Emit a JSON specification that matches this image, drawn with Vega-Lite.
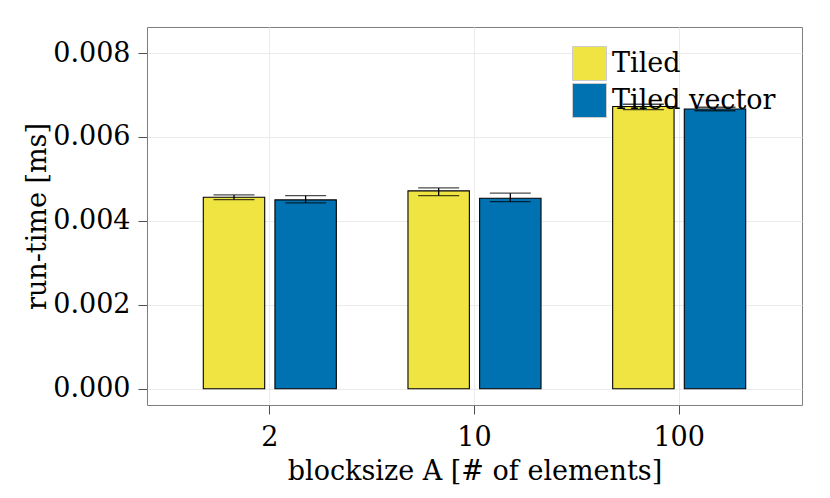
{
  "$schema": "https://vega.github.io/schema/vega-lite/v6.json",
  "width": 655,
  "height": 378,
  "autosize": {"type": "none"},
  "padding": {"left": 147, "top": 27, "right": 28, "bottom": 93},
  "background": "white",
  "data": {
    "values": [
      {"size": "2", "variant": "Tiled", "mean": 0.004564, "lo": 0.004507, "hi": 0.004619},
      {"size": "2", "variant": "Tiled vector", "mean": 0.0045, "lo": 0.004429, "hi": 0.004602},
      {"size": "10", "variant": "Tiled", "mean": 0.004714, "lo": 0.004602, "hi": 0.004786},
      {"size": "10", "variant": "Tiled vector", "mean": 0.00454, "lo": 0.00446, "hi": 0.00466},
      {"size": "100", "variant": "Tiled", "mean": 0.006726, "lo": 0.00665, "hi": 0.006779},
      {"size": "100", "variant": "Tiled vector", "mean": 0.006667, "lo": 0.006624, "hi": 0.006707}
    ]
  },
  "encoding": {
    "x": {
      "field": "size", "type": "nominal", "sort": ["2", "10", "100"],
      "scale": {"type": "band", "paddingInner": 0, "paddingOuter": 0.1},
      "axis": {
        "title": "blocksize A [# of elements]",
        "labelAngle": 0, "bandPosition": 0.5,
        "domain": false, "tickSize": 9, "tickColor": "#4d4d4d",
        "gridColor": "#ebebeb", "grid": true,
        "labelPadding": 10, "titleY": 74, "titleBaseline": "alphabetic"
      }
    },
    "xOffset": {
      "field": "variant", "type": "nominal",
      "scale": {"paddingInner": 0.142857, "paddingOuter": 0.5}
    }
  },
  "layer": [
    {
      "mark": {"type": "bar", "stroke": "black", "strokeWidth": 1.1},
      "encoding": {
        "y": {
          "field": "mean", "type": "quantitative",
          "scale": {"domain": [-0.000388, 0.00862], "nice": false, "zero": false},
          "axis": {
            "title": "run-time [ms]",
            "values": [0, 0.002, 0.004, 0.006, 0.008], "format": ".3f",
            "domain": false, "tickSize": 9, "tickColor": "#4d4d4d",
            "gridColor": "#ebebeb", "labelPadding": 8, "labelBaseline": "middle",
            "titleX": -102, "titleBaseline": "alphabetic"
          }
        },
        "fill": {
          "field": "variant", "type": "nominal",
          "scale": {"domain": ["Tiled", "Tiled vector"], "range": ["#F0E442", "#0072B2"]},
          "legend": {
            "title": null, "orient": "none", "legendX": 425, "legendY": 19,
            "symbolType": "square", "symbolSize": 1156, "symbolStrokeColor": "#cccccc",
            "symbolStrokeWidth": 1, "symbolOpacity": 1, "rowPadding": -10, "labelOffset": 5,
            "labelFontSize": 27, "labelColor": "black", "labelLimit": 300
          }
        }
      }
    },
    {
      "mark": {"type": "rule", "color": "black", "strokeWidth": 1.3},
      "encoding": {
        "y": {
          "field": "lo", "type": "quantitative",
          "axis": {
            "orient": "right", "values": [0.001, 0.003, 0.005, 0.007], "labels": false,
            "ticks": false, "domain": false, "title": null, "gridColor": "#f7f7f7"
          }
        },
        "y2": {"field": "hi"}
      }
    },
    {
      "mark": {"type": "tick", "orient": "horizontal", "color": "black", "size": 41, "thickness": 1.3},
      "encoding": {"y": {"field": "hi", "type": "quantitative", "axis": null}}
    },
    {
      "mark": {"type": "tick", "orient": "horizontal", "color": "black", "size": 41, "thickness": 1.3},
      "encoding": {"y": {"field": "lo", "type": "quantitative", "axis": null}}
    }
  ],
  "resolve": {"axis": {"y": "independent"}},
  "config": {
    "font": "DejaVu Serif",
    "view": {"stroke": "#7f7f7f", "strokeWidth": 1},
    "axis": {
      "labelFontSize": 27, "titleFontSize": 27, "labelColor": "black",
      "titleColor": "black", "titleFontWeight": "normal", "grid": true
    }
  }
}
